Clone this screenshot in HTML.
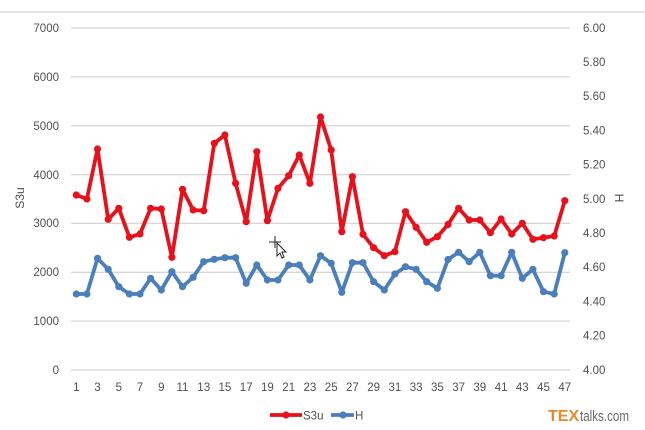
<!DOCTYPE html>
<html><head><meta charset="utf-8"><style>
html,body{margin:0;padding:0;background:#fff;}
svg{display:block;}
text{font-family:"Liberation Sans",sans-serif;fill:#505050;}
</style></head><body>
<svg width="645" height="430" viewBox="0 0 645 430" xmlns="http://www.w3.org/2000/svg">
<defs>
<marker id="mr" markerUnits="userSpaceOnUse" markerWidth="10" markerHeight="10" refX="5" refY="5"><circle cx="5" cy="5" r="3.6" fill="#e8101a"/></marker>
<marker id="mb" markerUnits="userSpaceOnUse" markerWidth="10" markerHeight="10" refX="5" refY="5"><circle cx="5" cy="5" r="3.6" fill="#4a7fbb"/></marker>
</defs>
<rect width="645" height="430" fill="#fff"/>
<line x1="0" y1="12" x2="645" y2="12" stroke="#d4d4d4" stroke-width="1.2"/>
<g stroke="#d6d6d6" stroke-width="1.3">
<line x1="71" y1="28" x2="570" y2="28"/>
<line x1="71" y1="76.9" x2="570" y2="76.9"/>
<line x1="71" y1="125.7" x2="570" y2="125.7"/>
<line x1="71" y1="174.6" x2="570" y2="174.6"/>
<line x1="71" y1="223.4" x2="570" y2="223.4"/>
<line x1="71" y1="272.3" x2="570" y2="272.3"/>
<line x1="71" y1="321.1" x2="570" y2="321.1"/>
<line x1="71" y1="370" x2="570" y2="370"/>
</g>
<g font-size="11.5" text-anchor="end">
<text x="59" y="32">7000</text>
<text x="59" y="81">6000</text>
<text x="59" y="130">5000</text>
<text x="59" y="179">4000</text>
<text x="59" y="227">3000</text>
<text x="59" y="276">2000</text>
<text x="59" y="325">1000</text>
<text x="59" y="374">0</text>
</g>
<g font-size="11.5">
<text x="583" y="32">6.00</text>
<text x="583" y="66">5.80</text>
<text x="583" y="100">5.60</text>
<text x="583" y="134.5">5.40</text>
<text x="583" y="168.5">5.20</text>
<text x="583" y="203">5.00</text>
<text x="583" y="237">4.80</text>
<text x="583" y="271">4.60</text>
<text x="583" y="305.5">4.40</text>
<text x="583" y="339.5">4.20</text>
<text x="583" y="374">4.00</text>
</g>
<text x="24" y="198" font-size="12" text-anchor="middle" transform="rotate(-90 24 198)" dy="0">S3u</text>
<text x="615" y="198" font-size="12" text-anchor="middle" transform="rotate(90 615 198)">H</text>
<g font-size="11.5" text-anchor="middle">
<text x="76.3" y="391">1</text>
<text x="97.5" y="391">3</text>
<text x="118.8" y="391">5</text>
<text x="140" y="391">7</text>
<text x="161.3" y="391">9</text>
<text x="182.5" y="391">11</text>
<text x="203.7" y="391">13</text>
<text x="224.9" y="391">15</text>
<text x="246.2" y="391">17</text>
<text x="267.4" y="391">19</text>
<text x="288.7" y="391">21</text>
<text x="309.9" y="391">23</text>
<text x="331.2" y="391">25</text>
<text x="352.4" y="391">27</text>
<text x="373.6" y="391">29</text>
<text x="394.9" y="391">31</text>
<text x="416.1" y="391">33</text>
<text x="437.4" y="391">35</text>
<text x="458.6" y="391">37</text>
<text x="479.8" y="391">39</text>
<text x="501.1" y="391">41</text>
<text x="522.3" y="391">43</text>
<text x="543.5" y="391">45</text>
<text x="564.8" y="391">47</text>
</g>
<polyline fill="none" stroke="#4a7fbb" stroke-width="3.8" stroke-linejoin="round" marker-start="url(#mb)" marker-mid="url(#mb)" marker-end="url(#mb)" points="76.3,294 86.9,294 97.5,258.3 108.2,269.3 118.8,286.7 129.4,294 140,294 150.6,278.3 161.3,290 171.9,271.7 182.5,286.7 193.1,277.3 203.7,261.7 214.3,259.3 224.9,257.7 235.6,257.7 246.2,283.3 256.8,265 267.4,280 278,280 288.7,265 299.3,265 309.9,280 320.5,255.7 331.2,263.3 341.8,292.3 352.4,262.7 363,262.7 373.6,281.7 384.3,290 394.9,274 405.5,266.7 416.1,269.3 426.7,281.7 437.4,288.3 448,259.5 458.6,252.3 469.2,261.7 479.8,252.3 490.4,275.7 501.1,275.7 511.7,252.3 522.3,278.3 532.9,269.3 543.5,291.7 554.2,294 564.8,252.7"/>
<polyline fill="none" stroke="#e8101a" stroke-width="3.8" stroke-linejoin="round" marker-start="url(#mr)" marker-mid="url(#mr)" marker-end="url(#mr)" points="76.3,195 86.9,199 97.5,149 108.2,219.3 118.8,208.3 129.4,237.3 140,234 150.6,208.3 161.3,209 171.9,257.3 182.5,189.3 193.1,210 203.7,210.7 214.3,143.3 224.9,135 235.6,183.3 246.2,221.7 256.8,151.7 267.4,220.7 278,188.3 288.7,175.7 299.3,155 309.9,183.3 320.5,117 331.2,150 341.8,231.7 352.4,176.7 363,234.3 373.6,247.7 384.3,255.7 394.9,251.7 405.5,211.7 416.1,227.3 426.7,242.3 437.4,236.7 448,224.5 458.6,208.3 469.2,220 479.8,220 490.4,232.7 501.1,219 511.7,234 522.3,223.3 532.9,239.3 543.5,237.7 554.2,236 564.8,200.7"/>
<!-- cursor -->
<g stroke="#222" stroke-width="1" fill="#fff">
<line x1="269" y1="242" x2="281" y2="242"/>
<line x1="275" y1="236" x2="275" y2="248"/>
<path d="M277,243 L277,256 L280,253 L282,258 L284,257 L282,252 L286,252 Z"/>
</g>
<!-- legend -->
<line x1="270" y1="415" x2="302" y2="415" stroke="#e8101a" stroke-width="3.8"/>
<circle cx="286" cy="415" r="3.6" fill="#e8101a"/>
<text x="303" y="419.5" font-size="11.5">S3u</text>
<line x1="331" y1="415" x2="354" y2="415" stroke="#4a7fbb" stroke-width="3.8"/>
<circle cx="343" cy="415" r="3.6" fill="#4a7fbb"/>
<text x="355" y="419.5" font-size="11.5">H</text>
<!-- logo -->
<text x="548" y="421" font-size="16" font-weight="bold" style="fill:#e8892b">TEX</text>
<text x="580" y="421" font-size="15" style="fill:#6a6a6a" textLength="49" lengthAdjust="spacingAndGlyphs">talks.com</text>
</svg>
</body></html>
